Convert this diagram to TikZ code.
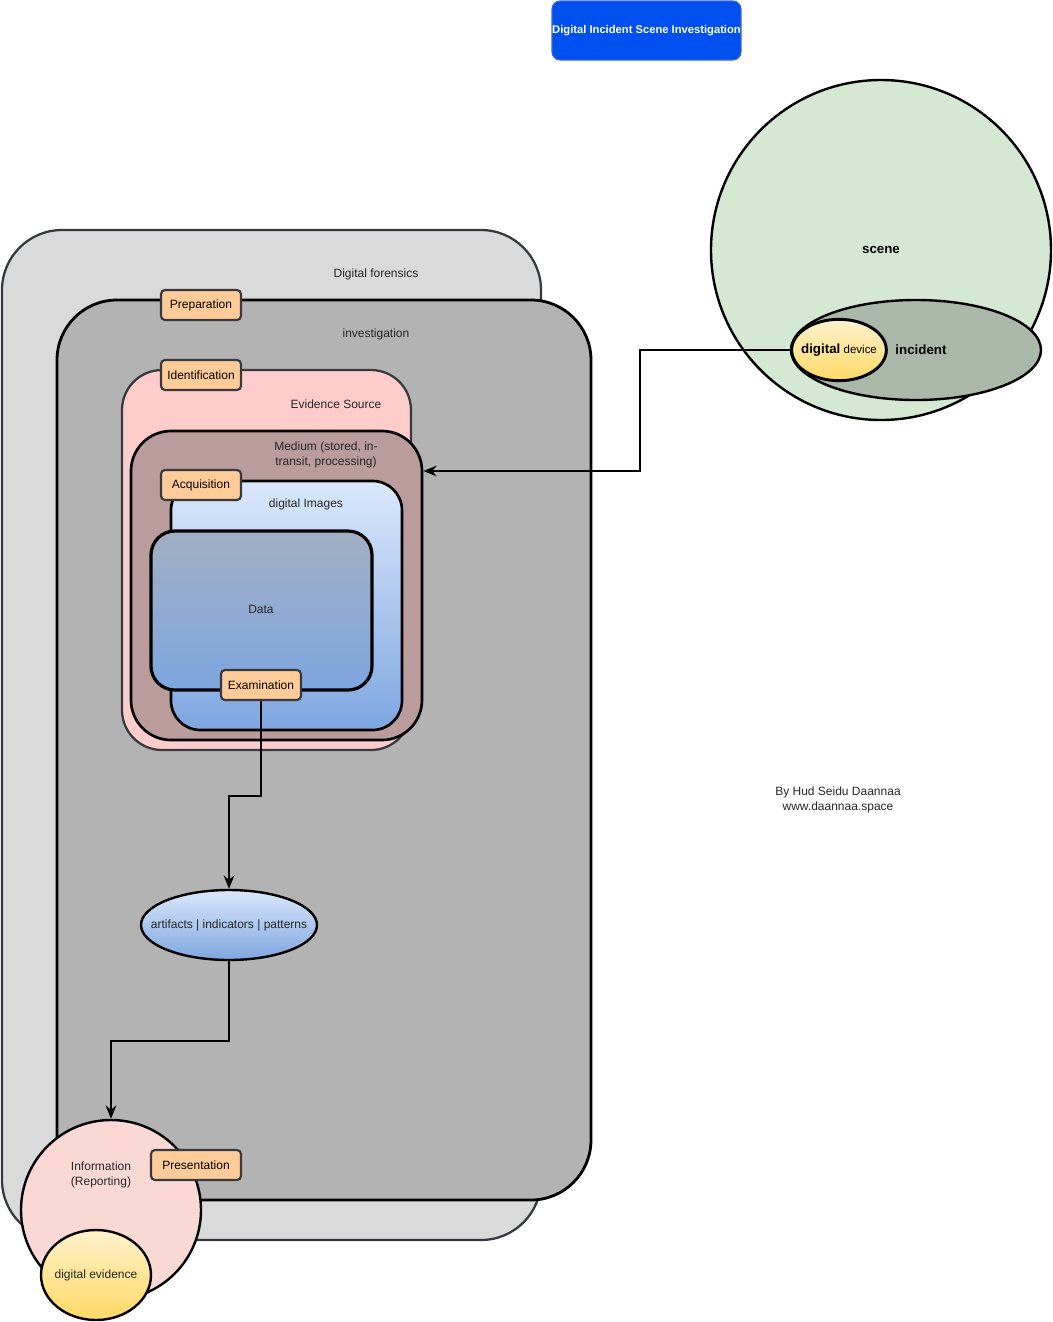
\documentclass[tikz,border=0pt]{standalone}
\usepackage{fontspec}
\setmainfont{Liberation Sans}
\usetikzlibrary{arrows.meta,fit,shapes.geometric}
\definecolor{lgray}{HTML}{DADADA}
\definecolor{mgray}{HTML}{B3B3B3}
\definecolor{dgray}{HTML}{36393D}
\definecolor{espink}{HTML}{FFCCCC}
\definecolor{medbrown}{HTML}{BA9C9C}
\definecolor{phasefill}{HTML}{FFCC99}
\definecolor{infopink}{HTML}{FAD9D5}
\definecolor{scenegreen}{HTML}{D5E8D4}
\definecolor{incgreen}{HTML}{A9B8A8}
\definecolor{titleblue}{HTML}{0050EF}
\definecolor{titleedge}{HTML}{3A66D6}
\definecolor{blueT}{HTML}{DAE8FC}
\definecolor{blueB}{HTML}{7EA6E0}
\definecolor{dataT}{HTML}{A2AFC3}
\definecolor{yelT}{HTML}{FFF2CC}
\definecolor{yelB}{HTML}{FFD966}
\begin{document}
\begin{tikzpicture}[x=0.75pt,y=-0.75pt,
  font=\fontsize{9}{10.8}\selectfont,
  region/.style={rounded corners=#1, inner sep=0pt},
  phase/.style={draw=dgray, fill=phasefill, rounded corners=3pt, line width=1.6pt,
    inner sep=0pt, minimum width=60pt, minimum height=22.5pt},
  conn/.style={draw, line width=1.8pt, -{Stealth[length=10pt,width=8pt]}},
  txt/.style={inner sep=1pt, text=black!85}]
\useasboundingbox (0,0) rectangle (1053,1322);

% title
\node[region=6pt, fill=titleblue, draw=titleedge, line width=0.8pt, fit={(552,1) (741,60)}] (title) {};
\node[text=white, font=\fontsize{8.4}{10}\selectfont\bfseries] (ttitle) at (title.center) {Digital Incident Scene Investigation};

% scene
\node[circle, draw, line width=1.8pt, fill=scenegreen, minimum size=255pt, inner sep=0pt] (scene) at (881,250) {};
\node[font=\fontsize{10}{12}\selectfont\bfseries] (tscene) at (881,250) {scene};
\node[ellipse, draw, line width=1.8pt, fill=incgreen, minimum width=187.5pt, minimum height=75pt, inner sep=0pt] (inc) at (916,350) {};
\node[font=\fontsize{10}{12}\selectfont\bfseries] (tinc) at (921,350) {incident};
\node[ellipse, draw, line width=2.2pt, top color=yelT, bottom color=yelB, minimum width=71pt, minimum height=46pt, inner sep=0pt] (dev) at (839,350) {};
\node[inner sep=0pt] (tdev) at (839,350) {{\fontsize{10}{12}\selectfont\bfseries digital} {\fontsize{8.6}{10}\selectfont device}};

% nested regions
\node[region=45pt, fill=lgray, draw=dgray, line width=1.7pt, fit={(2,230) (541,1240)}] (df) {};
\node[txt] (tdf) at (376,274) {Digital forensics};
\node[region=45pt, fill=mgray, draw=black, line width=2.1pt, fit={(57,300) (591,1200)}] (inv) {};
\node[txt] (tinv) at (376,334) {investigation};
\node[region=30pt, fill=espink, draw=dgray, line width=1.7pt, fit={(122,370) (411,750)}] (es) {};
\node[txt] (tes) at (336,404) {Evidence Source};
\node[region=30pt, fill=medbrown, draw=black, line width=2pt, fit={(131,431) (422,740)}] (med) {};
\node[txt, align=center] (tmed) at (326,455) {Medium (stored, in-\\transit, processing)};
\node[region=22pt, top color=blueT, bottom color=blueB, draw=black, line width=2pt, fit={(171,481) (402,730)}] (img) {};
\node[txt] (timg) at (306,504) {digital Images};
\node[region=18pt, top color=dataT, bottom color=blueB, draw=black, line width=2.4pt, fit={(151,531) (372,690)}] (data) {};
\node[txt] (tdata) at (261,609) {Data};

% phases
\node[phase] (prep) at (201,305) {Preparation};
\node[phase] (ident) at (201,375) {Identification};
\node[phase] (acq) at (201,485) {Acquisition};
\node[phase] (exam) at (261,685) {Examination};

% artifacts
\node[ellipse, draw, line width=1.8pt, top color=blueT, bottom color=blueB, minimum width=132pt, minimum height=52.5pt, inner sep=0pt] (art) at (229,925) {};
\node[txt] (tart) at (art.center) {artifacts | indicators | patterns};

% information
\node[circle, draw, line width=1.8pt, fill=infopink, minimum size=135pt, inner sep=0pt] (info) at (111,1210) {};
\node[txt, align=center] (tinfo) at (101,1175) {Information\\(Reporting)};
\node[phase, minimum width=67.5pt] (pres) at (196,1165) {Presentation};
\node[ellipse, draw, line width=1.8pt, top color=yelT, bottom color=yelB, minimum width=82.5pt, minimum height=67.5pt, inner sep=0pt] (dev2) at (96,1275) {};
\node[txt] (tdev2) at (dev2.center) {digital evidence};

% credit
\node[txt, align=center] (credit) at (838,800) {By Hud Seidu Daannaa\\www.daannaa.space};

% connectors
\draw[conn] (dev.west) -- ++(-150,0) |- (med.east |- 0,471);
\draw[conn] (exam.south) -- ++(0,95) -| (art.north);
\draw[conn] (art.south) -- ++(0,80) -| (info.north);
\end{tikzpicture}
\end{document}
